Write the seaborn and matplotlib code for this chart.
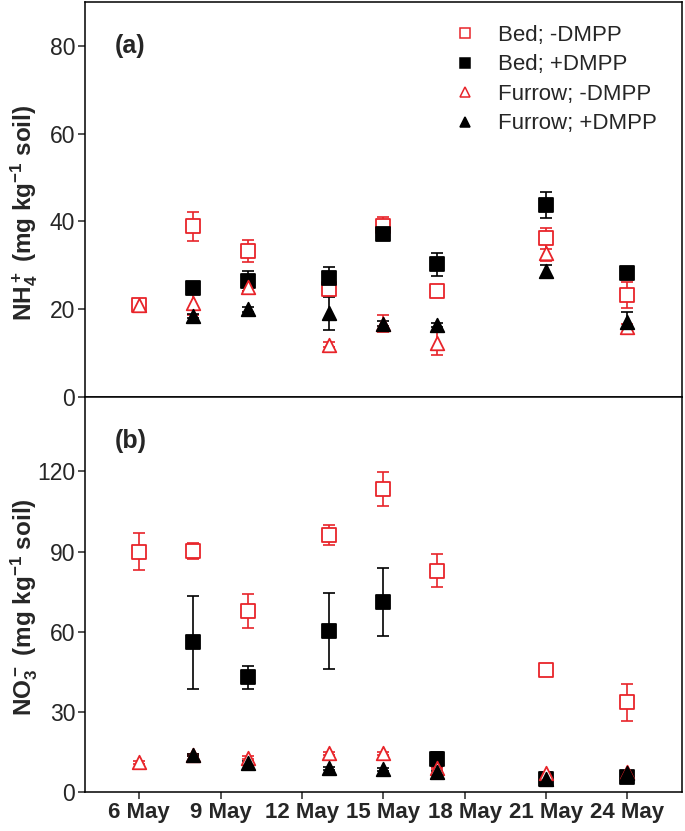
import numpy as np
import pandas as pd
import matplotlib
matplotlib.use("Agg")
import matplotlib.pyplot as plt
from matplotlib.lines import Line2D
import seaborn as sns

# sampling days (day of May)
days = [6, 8, 10, 13, 15, 17, 21, 24]
nan = np.nan

# (a) NH4+ (mg/kg soil)
nh4_bed_minus = [20.9, 38.9, 33.2, 24.5, 39.0, 24.1, 36.1, 23.2]
nh4_bed_minus_se = [0.5, 3.3, 2.5, 1.0, 2.0, 0.8, 2.5, 2.9]
nh4_bed_plus = [nan, 24.8, 26.4, 27.0, 37.1, 30.2, 43.7, 28.3]
nh4_bed_plus_se = [nan, 1.2, 2.2, 2.6, 0.8, 2.6, 3.0, 0.5]
nh4_fur_minus = [20.9, 21.3, 25.1, 11.9, 16.7, 12.3, 32.9, 16.0]
nh4_fur_minus_se = [0.5, 2.7, 1.0, 0.5, 1.9, 2.7, 2.0, 0.5]
nh4_fur_plus = [nan, 18.4, 19.9, 19.0, 16.7, 16.4, 28.6, 17.0]
nh4_fur_plus_se = [nan, 0.5, 0.5, 3.8, 0.5, 0.5, 1.5, 2.4]

# (b) NO3- (mg/kg soil)
no3_bed_minus = [90.0, 90.2, 67.8, 96.1, 113.3, 82.9, 45.5, 33.5]
no3_bed_minus_se = [6.8, 2.9, 6.4, 3.7, 6.4, 6.1, 0.8, 6.9]
no3_bed_plus = [nan, 56.0, 42.9, 60.3, 71.1, 12.3, 4.9, 5.5]
no3_bed_plus_se = [nan, 17.4, 4.4, 14.2, 12.7, 2.8, 0.5, 0.5]
no3_fur_minus = [11.1, 13.8, 12.8, 14.5, 14.5, 9.0, 7.0, 7.5]
no3_fur_minus_se = [0.5, 0.5, 0.5, 0.5, 0.5, 0.5, 0.5, 0.5]
no3_fur_plus = [nan, 13.8, 11.0, 8.9, 8.5, 7.4, 5.0, 7.0]
no3_fur_plus_se = [nan, 0.5, 0.5, 0.5, 0.5, 0.5, 0.5, 0.5]

labels = ["Bed; -DMPP", "Bed; +DMPP", "Furrow; -DMPP", "Furrow; +DMPP"]
tick_days = [6, 9, 12, 15, 18, 21, 24]
tick_labels = [f"{d} May" for d in tick_days]

RED = "#e8242a"
styles = [("s", RED, False), ("s", "black", True), ("^", RED, False), ("^", "black", True)]

sns.set_style("ticks")
plt.rcParams["font.family"] = ["Liberation Sans", "DejaVu Sans"]
plt.rcParams["mathtext.fontset"] = "custom"
plt.rcParams["mathtext.default"] = "bf"
plt.rcParams["mathtext.bf"] = "Liberation Sans:bold"
plt.rcParams["mathtext.rm"] = "Liberation Sans:bold"


def draw_panel(ax, series, errs):
    for (marker, col, filled), vals, err, lab in zip(styles, series, errs, labels):
        df = pd.DataFrame({"day": days, "value": vals, "se": err}).dropna()
        ax.errorbar(df["day"], df["value"], yerr=df["se"], fmt="none",
                    ecolor=col, elinewidth=1.2, capsize=4.5, capthick=1.2, zorder=2)
        sns.scatterplot(data=df, x="day", y="value", marker=marker, s=95,
                        color=col, ax=ax, zorder=3, legend=False)
        pts = ax.collections[-1]
        if filled:
            pts.set_facecolor(col)
            pts.set_edgecolor(col)
        else:
            pts.set_facecolor("white")
            pts.set_edgecolor(col)
        pts.set_linewidth(1.3)


fig = plt.figure(figsize=(6.85, 8.31), dpi=100)
ax1 = fig.add_axes([0.124, 0.5226, 0.871, 0.4747])
ax2 = fig.add_axes([0.124, 0.047, 0.871, 0.4756], sharex=ax1)

draw_panel(ax1, [nh4_bed_minus, nh4_bed_plus, nh4_fur_minus, nh4_fur_plus],
           [nh4_bed_minus_se, nh4_bed_plus_se, nh4_fur_minus_se, nh4_fur_plus_se])
draw_panel(ax2, [no3_bed_minus, no3_bed_plus, no3_fur_minus, no3_fur_plus],
           [no3_bed_minus_se, no3_bed_plus_se, no3_fur_minus_se, no3_fur_plus_se])

for ax in (ax1, ax2):
    ax.set_xlim(4, 26)
    ax.set_xticks(tick_days)
    for s in ax.spines.values():
        s.set_linewidth(1.1)
        s.set_color("black")
    ax.tick_params(axis="both", direction="out", length=5, width=1.1,
                   labelsize=16.5, pad=2)
    ax.set_xlabel("")

ax1.set_ylim(0, 90)
ax1.set_yticks([0, 20, 40, 60, 80])
ax1.tick_params(axis="x", labelbottom=False)
ax2.set_ylim(0, 148)
ax2.set_yticks([0, 30, 60, 90, 120])
ax2.set_xticklabels(tick_labels, fontweight="bold", fontsize=16)

ax1.set_ylabel("NH$_4^+$ (mg kg$^{-1}$ soil)", fontsize=17.5, fontweight="bold")
ax2.set_ylabel("NO$_3^-$ (mg kg$^{-1}$ soil)", fontsize=17.5, fontweight="bold")
ax1.yaxis.set_label_coords(-0.075, 0.467)
ax2.yaxis.set_label_coords(-0.075, 0.467)

ax1.text(0.05, 0.888, "(a)", transform=ax1.transAxes, fontsize=18, fontweight="bold", va="center")
ax2.text(0.05, 0.888, "(b)", transform=ax2.transAxes, fontsize=18, fontweight="bold", va="center")

handles = []
for (marker, col, filled), lab in zip(styles, labels):
    handles.append(Line2D([], [], linestyle="none", marker=marker, markersize=7,
                          markerfacecolor=col if filled else "white",
                          markeredgecolor=col, markeredgewidth=1.1, label=lab))
ax1.legend(handles=handles, loc="upper left", bbox_to_anchor=(0.585, 0.993),
           frameon=False, fontsize=16, handlelength=1.0, handletextpad=1.0,
           labelspacing=0.38, borderaxespad=0.5)

fig.savefig("out.png", dpi=100)
